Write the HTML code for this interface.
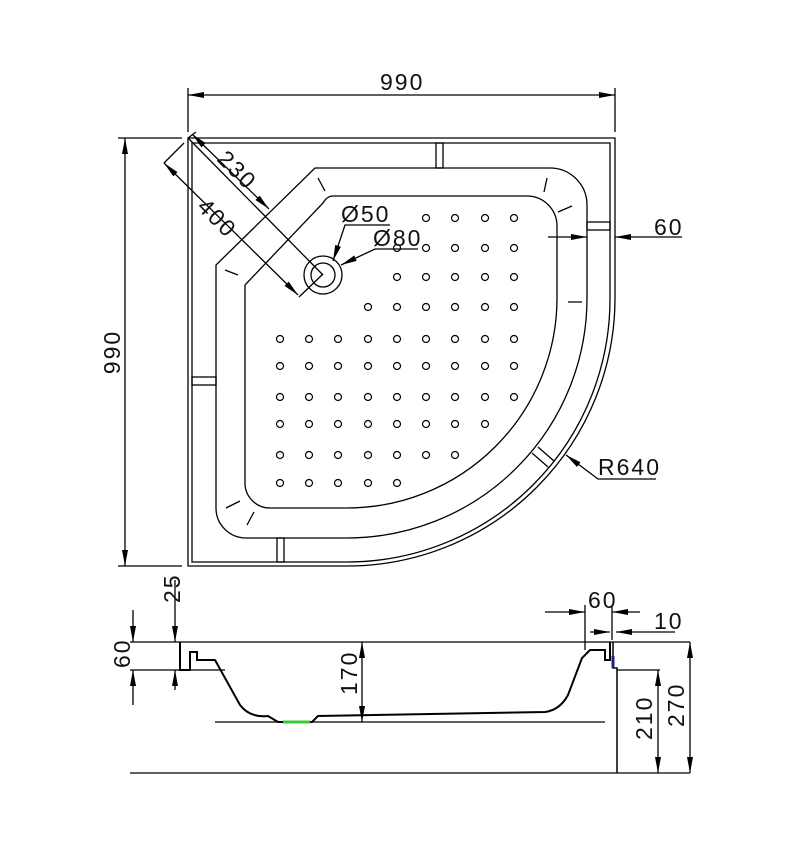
<!DOCTYPE html>
<html><head><meta charset="utf-8"><style>html,body{margin:0;padding:0;background:#fff}svg{display:block}text{font-family:"Liberation Sans",sans-serif;font-size:23px;fill:#111;letter-spacing:2px}</style></head><body>
<svg width="794" height="850" viewBox="0 0 794 850" xmlns="http://www.w3.org/2000/svg">
<defs><marker id="a" markerWidth="16" markerHeight="8" refX="16" refY="4" orient="auto-start-reverse" markerUnits="userSpaceOnUse"><path d="M0,1 L16,4 L0,7 Z" fill="#000"/></marker></defs>
<g fill="none" stroke="#000" stroke-width="1.3">
<path d="M188,138 H615 V298 A268,268 0 0 1 347,566 H188 Z"/>
<path d="M192,143 H610 V298 A263,263 0 0 1 347,562 H192 Z"/>
<path d="M315,168 H550 A37,37 0 0 1 587,205 V298 A240,240 0 0 1 347,538 H246 A30,30 0 0 1 216,508 V265 Z"/>
<path d="M333,196 H527 A30,30 0 0 1 557,226 V298 A210,210 0 0 1 347,508 H270 A25,25 0 0 1 245,483 V285 L323,203 Q327,196 333,196 Z"/>
<rect x="436" y="143" width="7" height="25"/><rect x="587" y="222" width="23" height="8"/><rect x="192" y="377" width="24" height="8"/><rect x="277" y="538" width="7" height="24"/>
<path d="M532,453 L548,467 M538,447 L554,461"/>
<path d="M318,178 L325,191 M547,178 L544,192 M558,212 L572,206 M568,302 L582,302 M225,270 L238,275 M226,508 L240,501 M247,525 L254,512"/>
<circle cx="323" cy="275" r="19"/><circle cx="323" cy="275" r="12"/>
<path d="M188,132 V88 M615,132 V88"/>
<path d="M188,95 H615" marker-start="url(#a)" marker-end="url(#a)"/>
<path d="M182,138 H118 M182,566 H118"/>
<path d="M125,138 V566" marker-start="url(#a)" marker-end="url(#a)"/>
<path d="M188,138 L323,275"/>
<path d="M188,138 L196,132 M164,163 L184,143 M299,297 L323,274"/>
<path d="M192,134 L269,209" marker-start="url(#a)" marker-end="url(#a)"/>
<path d="M164,163 L298,295" marker-start="url(#a)" marker-end="url(#a)"/>
<path d="M390,225 H345 L333,261" marker-end="url(#a)"/>
<path d="M418,249 H375 L341,265" marker-end="url(#a)"/>
<path d="M548,237 H587" marker-end="url(#a)"/><path d="M682,237 H615" marker-end="url(#a)"/>
<path d="M656,479 H598 L566,455" marker-end="url(#a)"/>
<path d="M130,642 H690 M130,773 H690 M215,722 H605"/>
<path d="M180,642 V670 H190 V652 H197 V660 H215 L240,705 Q250,718 268,716 L278,722 H312 L318,716 L545,712 Q560,710 568,695 L582,658 L590,650 H605 V660 H610 V642" stroke-width="2"/>
<path d="M283,722 H310" stroke="#3c3" stroke-width="3"/>
<path d="M613,642 V668 H617 V773" stroke-width="1.5"/>
<path d="M613,656 V668" stroke="#1a237e" stroke-width="3"/>
<path d="M617,670 H660"/>
<path d="M130,670 H225 M133,610 V642" marker-end="url(#a)"/><path d="M133,705 V670" marker-end="url(#a)"/>
<path d="M175,580 V642" marker-end="url(#a)"/><path d="M175,690 V670" marker-end="url(#a)"/>
<path d="M362,642 V722" marker-start="url(#a)" marker-end="url(#a)"/>
<path d="M585,605 V650 M612,605 V640"/>
<path d="M545,612 H585" marker-end="url(#a)"/><path d="M640,612 H612" marker-end="url(#a)"/>
<path d="M590,632 H610" marker-end="url(#a)"/><path d="M675,632 H616" marker-end="url(#a)"/>
<path d="M658,670 V773" marker-start="url(#a)" marker-end="url(#a)"/>
<path d="M690,642 V773" marker-start="url(#a)" marker-end="url(#a)"/>
</g>
<g fill="none" stroke="#000" stroke-width="1.2">
<circle cx="426" cy="218" r="3.5"/><circle cx="455" cy="218" r="3.5"/><circle cx="485" cy="218" r="3.5"/><circle cx="514" cy="218" r="3.5"/>
<circle cx="397" cy="248" r="3.5"/><circle cx="426" cy="248" r="3.5"/><circle cx="455" cy="248" r="3.5"/><circle cx="485" cy="248" r="3.5"/><circle cx="514" cy="248" r="3.5"/>
<circle cx="397" cy="277" r="3.5"/><circle cx="426" cy="277" r="3.5"/><circle cx="455" cy="277" r="3.5"/><circle cx="485" cy="277" r="3.5"/><circle cx="514" cy="277" r="3.5"/>
<circle cx="368" cy="307" r="3.5"/><circle cx="397" cy="307" r="3.5"/><circle cx="426" cy="307" r="3.5"/><circle cx="455" cy="307" r="3.5"/><circle cx="485" cy="307" r="3.5"/><circle cx="514" cy="307" r="3.5"/>
<circle cx="280" cy="339" r="3.5"/><circle cx="309" cy="339" r="3.5"/><circle cx="338" cy="339" r="3.5"/><circle cx="368" cy="339" r="3.5"/><circle cx="397" cy="339" r="3.5"/><circle cx="426" cy="339" r="3.5"/><circle cx="455" cy="339" r="3.5"/><circle cx="485" cy="339" r="3.5"/><circle cx="514" cy="339" r="3.5"/>
<circle cx="280" cy="366" r="3.5"/><circle cx="309" cy="366" r="3.5"/><circle cx="338" cy="366" r="3.5"/><circle cx="368" cy="366" r="3.5"/><circle cx="397" cy="366" r="3.5"/><circle cx="426" cy="366" r="3.5"/><circle cx="455" cy="366" r="3.5"/><circle cx="485" cy="366" r="3.5"/><circle cx="514" cy="366" r="3.5"/>
<circle cx="280" cy="397" r="3.5"/><circle cx="309" cy="397" r="3.5"/><circle cx="338" cy="397" r="3.5"/><circle cx="368" cy="397" r="3.5"/><circle cx="397" cy="397" r="3.5"/><circle cx="426" cy="397" r="3.5"/><circle cx="455" cy="397" r="3.5"/><circle cx="485" cy="397" r="3.5"/><circle cx="514" cy="397" r="3.5"/>
<circle cx="280" cy="424" r="3.5"/><circle cx="309" cy="424" r="3.5"/><circle cx="338" cy="424" r="3.5"/><circle cx="368" cy="424" r="3.5"/><circle cx="397" cy="424" r="3.5"/><circle cx="426" cy="424" r="3.5"/><circle cx="455" cy="424" r="3.5"/><circle cx="485" cy="424" r="3.5"/>
<circle cx="280" cy="455" r="3.5"/><circle cx="309" cy="455" r="3.5"/><circle cx="338" cy="455" r="3.5"/><circle cx="368" cy="455" r="3.5"/><circle cx="397" cy="455" r="3.5"/><circle cx="426" cy="455" r="3.5"/><circle cx="455" cy="455" r="3.5"/>
<circle cx="280" cy="483" r="3.5"/><circle cx="309" cy="483" r="3.5"/><circle cx="338" cy="483" r="3.5"/><circle cx="368" cy="483" r="3.5"/><circle cx="397" cy="483" r="3.5"/>
</g>
<text x="380" y="90">990</text>
<text transform="translate(120,352) rotate(-90)" text-anchor="middle">990</text>
<text transform="translate(216,160) rotate(45)">230</text>
<text transform="translate(196,208) rotate(45)">400</text>
<text x="341" y="222">Ø50</text>
<text x="373" y="246">Ø80</text>
<text x="654" y="235">60</text>
<text x="598" y="475">R640</text>
<text transform="translate(180,603) rotate(-90)">25</text>
<text transform="translate(130,668) rotate(-90)">60</text>
<text transform="translate(357,695) rotate(-90)">170</text>
<text x="588" y="608">60</text>
<text x="654" y="629">10</text>
<text transform="translate(652,740) rotate(-90)">210</text>
<text transform="translate(684,727) rotate(-90)">270</text>
</svg>
</body></html>
